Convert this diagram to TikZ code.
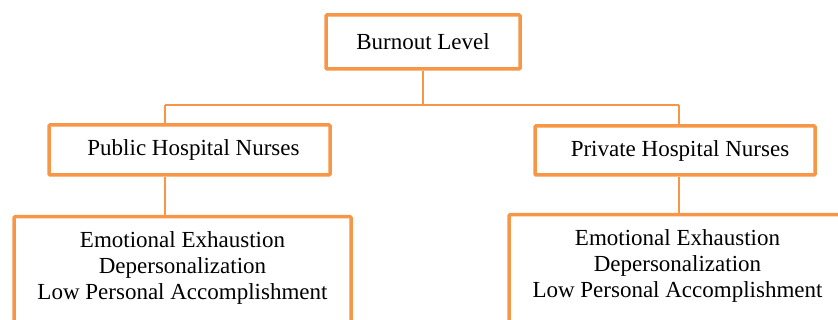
\documentclass[tikz,border=0pt]{standalone}
\usepackage{fontspec}
\setmainfont{Liberation Serif}
\usepackage{xcolor}
\definecolor{boxorange}{RGB}{247,150,70}

\begin{document}
\begin{tikzpicture}[x=1pt, y=-1pt,
    box/.style={draw=boxorange, line width=3.5pt, rounded corners=1pt,
      fill=white, inner sep=0pt, font=\fontsize{23}{26}\selectfont},
    dimbox/.style={box, align=center, anchor=north, minimum width=337pt,
      inner ysep=15pt, text height=68pt, text depth=140pt},
    link/.style={draw=boxorange, line width=1.8pt}]
  \useasboundingbox (0,0) rectangle (838,320);

  %% top level
  \node[box, minimum width=194pt, minimum height=54pt] (burnout) at (423,42) {Burnout Level};

  %% the two groups of nurses
  \node[box, minimum width=281pt, minimum height=50pt] (pub) at (189.5,150) {\hspace{8pt}Public Hospital Nurses};
  \node[box, minimum width=280pt, minimum height=49pt] (priv) at (675,150.5) {\hspace{10pt}Private Hospital Nurses};

  %% dimensions
  \node[dimbox] (pubdim) at (182.5,215)
    {Emotional Exhaustion\\ Depersonalization\\ Low Personal Accomplishment};
  \node[dimbox] (privdim) at (677.5,213)
    {Emotional Exhaustion\\ Depersonalization\\ Low Personal Accomplishment};

  %% connectors
  \coordinate (pubjoin) at (165,105);
  \coordinate (privjoin) at (679,105);
  \draw[link] (burnout) -- (burnout.south |- pubjoin);
  \draw[link] (pubjoin) -- (privjoin);
  \draw[link] (pubjoin) -- (pubjoin |- pub.north);
  \draw[link] (privjoin) -- (privjoin |- priv.north);
  \draw[link] (pubjoin |- pub.south) -- (pubjoin |- pubdim.north);
  \draw[link] (privjoin |- priv.south) -- (privjoin |- privdim.north);
\end{tikzpicture}
\end{document}
